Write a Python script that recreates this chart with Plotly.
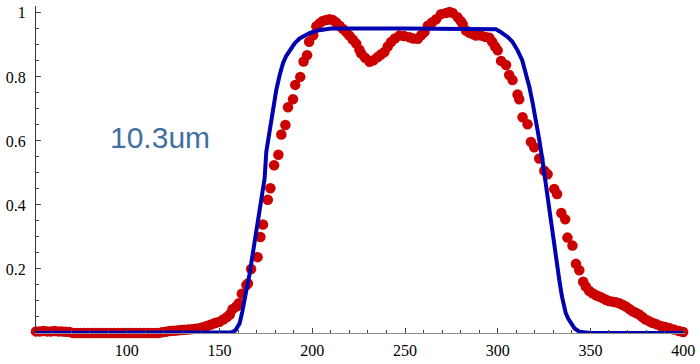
import plotly.graph_objects as go

# Measured transmission profile (position, normalized intensity)
meas_x = [51, 53, 55, 57, 59, 61, 63, 65, 67, 69, 71, 73, 75, 77, 79, 81, 83, 85, 87, 89,
          91, 93, 95, 97, 99, 101, 103, 105, 107, 109, 111, 113, 115, 117, 119, 121, 123,
          125, 127, 129, 131, 133, 135, 137, 139, 141, 143, 145, 147, 148, 150, 152, 154,
          155.5, 157, 159, 160.4, 162, 164.5, 165.3, 167, 170.5, 172, 173.4, 176, 177.4,
          179.4, 181.7, 183.3, 185.5, 186.9, 189.6, 190.8, 193.5, 195.3, 197.2, 198.3,
          200.5, 202.2, 204, 205.7, 207.5, 209.3, 211, 212.9, 214.7, 216.5, 218.3, 220,
          221.8, 223.7, 225.4, 226.4, 228.5, 230.9, 233, 235.3, 237, 238.9, 240.7, 242.5,
          244.5, 247, 249.5, 252.4, 254.5, 256.9, 258.7, 260.5, 262.3, 264.5, 266.8,
          269.4, 272.2, 274, 275.7, 278.4, 280, 281.1, 282.9, 284.7, 286.5, 288.3, 291,
          293.3, 295.5, 297, 298.6, 300, 301.8, 304.5, 306.2, 308, 310.7, 311.6, 313.4,
          316.1, 317.9, 319.7, 322.4, 325.1, 326.9, 330.5, 332, 334.3, 336.4, 337.6,
          340.3, 342.2, 344, 346.1, 347.5, 349.3, 351.1, 353, 354.7, 356.5, 358.3, 360,
          361.9, 363.7, 365.5, 367.3, 369.1, 371, 372.7, 374.5, 376.3, 378, 379.8, 381.6,
          383.4, 385.7, 388, 390.2, 392.4, 395, 397.8, 400]
meas_y = [0.005, 0.005, 0.006, 0.005, 0.005, 0.006, 0.005, 0.005, 0.004, 0.003, 0.0,
          0.0, 0.0, 0.0, 0.0, 0.0, 0.0, 0.0, 0.0, 0.0, 0.0,
          0.0, 0.0, 0.0, 0.0, 0.0, 0.0, 0.0, 0.0, 0.0, 0.0,
          0.0, 0.0, 0.0, 0.002, 0.004, 0.006, 0.007, 0.008, 0.009, 0.010, 0.011, 0.012,
          0.013, 0.015, 0.018, 0.022, 0.026, 0.03, 0.032, 0.035, 0.042, 0.050, 0.058,
          0.074, 0.083, 0.093, 0.123, 0.15, 0.155, 0.2, 0.237, 0.3, 0.339, 0.416, 0.452,
          0.524, 0.557, 0.62, 0.65, 0.705, 0.73, 0.775, 0.8, 0.848, 0.868, 0.91, 0.93,
          0.958, 0.968, 0.975, 0.978, 0.98, 0.978, 0.97, 0.96, 0.95, 0.94, 0.929, 0.917,
          0.904, 0.885, 0.873, 0.86, 0.847, 0.852, 0.862, 0.87, 0.878, 0.895, 0.909, 0.92,
          0.929, 0.928, 0.924, 0.92, 0.919, 0.93, 0.94, 0.96, 0.97, 0.98, 0.996, 1.0,
          1.003, 1.0, 0.986, 0.975, 0.965, 0.945, 0.938, 0.934, 0.929, 0.929, 0.925, 0.922,
          0.91, 0.895, 0.883, 0.85, 0.837, 0.806, 0.79, 0.745, 0.73, 0.674, 0.652, 0.597,
          0.58, 0.545, 0.507, 0.496, 0.45, 0.434, 0.375, 0.355, 0.298, 0.273, 0.216, 0.196,
          0.16, 0.145, 0.132, 0.124, 0.118, 0.114, 0.109, 0.104, 0.1, 0.098, 0.096, 0.093,
          0.088, 0.083, 0.075, 0.068, 0.063, 0.058, 0.05, 0.042, 0.037, 0.032, 0.027,
          0.022, 0.019, 0.016, 0.011, 0.006, 0.003]

# Flat-top model fit
fit_x = [51, 100, 150, 155, 156.5, 158.5, 160.8, 162.2, 163.5, 165, 166.2, 167.6, 168.9,
         170.7, 172.5, 174.3, 175.2, 177.9, 180.6, 182.4, 184.2, 186, 187.8, 190.5, 193.2,
         196, 198.5, 202.9, 206, 210, 250, 296, 299, 300.9, 302.6, 305.3, 307.9, 310.7,
         313.2, 315.1, 317, 318.8, 320.6, 322.3, 324, 326, 327.8, 329.4, 331.3, 333.2,
         334.6, 335.9, 336.7, 338, 339.5, 341.5, 344, 350, 400]
fit_y = [0.0, 0.0, 0.0, 0.0, 0.002, 0.008, 0.03, 0.065, 0.114, 0.15, 0.185, 0.237, 0.29,
         0.36, 0.42, 0.483, 0.566, 0.668, 0.76, 0.805, 0.843, 0.866, 0.883, 0.905, 0.92,
         0.93, 0.937, 0.945, 0.949, 0.951, 0.951, 0.951, 0.949, 0.943, 0.937, 0.925, 0.91,
         0.883, 0.852, 0.815, 0.77, 0.72, 0.668, 0.607, 0.545, 0.46, 0.38, 0.32, 0.243,
         0.166, 0.115, 0.074, 0.062, 0.045, 0.031, 0.014, 0.004, 0.0, 0.0]

x_ticks = [100, 150, 200, 250, 300, 350, 400]
y_ticks = [0.2, 0.4, 0.6, 0.8, 1.0]
y_tick_text = ["0.2", "0.4", "0.6", "0.8", "1"]

fig = go.Figure()

fig.add_trace(go.Scatter(
    x=meas_x, y=meas_y, mode="markers",
    marker=dict(color="#cc0000", size=10.5, line=dict(width=0)),
    cliponaxis=False, showlegend=False,
))

fig.add_trace(go.Scatter(
    x=fit_x, y=fit_y, mode="lines",
    line=dict(color="#0000b0", width=4),
    cliponaxis=False, showlegend=False,
))

fig.add_annotation(
    x=117.7, y=0.612, xref="x", yref="y",
    text="10.3um", showarrow=False,
    font=dict(family="Liberation Sans, Arial, sans-serif", size=30, color="#3f6fa3"),
    xanchor="center", yanchor="middle",
)

tick_font = dict(family="Liberation Serif, Times New Roman, serif", size=16, color="#000000")

fig.update_xaxes(
    range=[51, 401], showgrid=False, zeroline=False,
    showline=True, linecolor="#8c8c8c", linewidth=1,
    tickmode="array", tickvals=x_ticks, ticktext=[str(v) for v in x_ticks],
    ticks="inside", ticklen=5, tickcolor="#444444", tickwidth=1,
    minor=dict(dtick=10, tick0=0, ticks="inside", ticklen=3, tickcolor="#444444"),
    tickfont=tick_font, ticklabelstandoff=3,
)
fig.update_yaxes(
    range=[0, 1.0215], showgrid=False, zeroline=False,
    showline=True, linecolor="#333333", linewidth=1,
    tickmode="array", tickvals=y_ticks, ticktext=y_tick_text,
    ticks="inside", ticklen=5, tickcolor="#444444", tickwidth=1,
    minor=dict(dtick=0.05, tick0=0, ticks="inside", ticklen=3, tickcolor="#444444"),
    tickfont=tick_font, ticklabelstandoff=6,
)

fig.update_layout(
    width=700, height=364,
    margin=dict(l=36, r=13, t=5, b=27),
    paper_bgcolor="white", plot_bgcolor="white",
)

fig.write_html("out.html")
